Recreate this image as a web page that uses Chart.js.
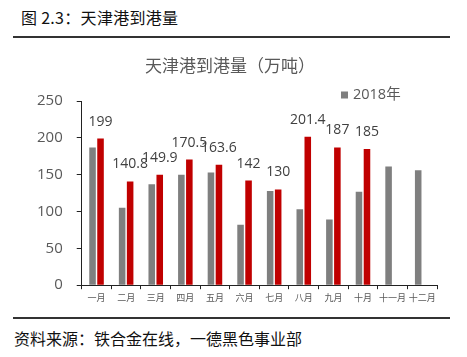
<!DOCTYPE html>
<html>
<head>
<meta charset="utf-8">
<script src="https://cdn.jsdelivr.net/npm/chart.js@4/dist/chart.umd.min.js"></script>
<style>
  html, body { margin: 0; padding: 0; background: #fff; }
  body { width: 467px; height: 357px; position: relative; overflow: hidden; font-family: "Noto Sans CJK SC", sans-serif; }
  #hdr { position: absolute; left: 21px; top: 5px; font-size: 16px; line-height: 24px; color: #111; letter-spacing: 0.3px; }
  .rule { position: absolute; left: 13px; width: 437px; height: 2px; background: #333; }
  #ftr { position: absolute; left: 14px; top: 326px; font-size: 16px; line-height: 24px; color: #111; }
  #wrap { position: absolute; left: 0; top: 40px; width: 467px; height: 275px; }
</style>
</head>
<body>
<div id="hdr">图 2.3：天津港到港量</div>
<div class="rule" style="top:36px"></div>
<div id="wrap"><canvas id="c" width="467" height="275"></canvas></div>
<div class="rule" style="top:317px"></div>
<div id="ftr">资料来源：铁合金在线，一德黑色事业部</div>
<script>
const categories = ["一月","二月","三月","四月","五月","六月","七月","八月","九月","十月","十一月","十二月"];
const series2018 = [187, 105, 137, 150, 153, 82, 128, 103, 89, 127, 161, 156];
const series2019 = [199, 140.8, 149.9, 170.5, 163.6, 142, 130, 201.4, 187, 185, null, null];
const seriesNames = ["2018年", "2019年"];
const yTicks = [0, 50, 100, 150, 200, 250];

const valueLabels = {
  id: 'valueLabels',
  afterDatasetsDraw(chart) {
    const ctx = chart.ctx;
    const meta = chart.getDatasetMeta(1);
    ctx.save();
    ctx.font = '14px "Open Sans", sans-serif';
    ctx.fillStyle = '#404040';
    ctx.textAlign = 'center';
    ctx.textBaseline = 'middle';
    meta.data.forEach((el, i) => {
      const v = series2019[i];
      if (v === null || v === undefined) return;
      ctx.fillText(String(v), el.x, el.y - 17);
    });
    ctx.restore();
  }
};

const sideLegend = {
  id: 'sideLegend',
  afterDraw(chart) {
    const ctx = chart.ctx;
    const ds = chart.data.datasets[0];
    const x = 341, y = 55;
    ctx.save();
    ctx.fillStyle = ds.backgroundColor;
    ctx.fillRect(x, y - 3.5, 7, 7);
    ctx.font = '14.5px "Open Sans", "Noto Sans CJK SC", sans-serif';
    ctx.fillStyle = '#595959';
    ctx.textAlign = 'left';
    ctx.textBaseline = 'middle';
    ctx.fillText(ds.label, x + 12, y);
    ctx.restore();
  }
};

new Chart(document.getElementById('c'), {
  type: 'bar',
  data: {
    labels: categories,
    datasets: [
      { label: seriesNames[0], data: series2018, backgroundColor: '#7F7F7F', categoryPercentage: 0.54, barPercentage: 0.82 },
      { label: seriesNames[1], data: series2019, backgroundColor: '#C00000', categoryPercentage: 0.54, barPercentage: 0.82 }
    ]
  },
  options: {
    responsive: false,
    animation: false,
    devicePixelRatio: 1,
    layout: { padding: { left: 23, right: 30, top: 0, bottom: 9 } },
    plugins: {
      legend: { display: false },
      tooltip: { enabled: false },
      title: {
        display: true,
        text: '天津港到港量（万吨）',
        color: '#595959',
        font: { family: '"Noto Sans CJK SC", sans-serif', size: 17, weight: 'normal' },
        padding: { top: 15, bottom: 25.6 }
      }
    },
    scales: {
      x: {
        grid: { display: true, drawOnChartArea: false, drawTicks: true, tickLength: 4, color: '#222', offset: true },
        border: { display: true, color: '#222', width: 1 },
        ticks: { color: '#595959', font: { family: '"Noto Sans CJK SC", sans-serif', size: 9 }, padding: 3, maxRotation: 0, autoSkip: false }
      },
      y: {
        min: 0, max: 250,
        afterBuildTicks(axis) { axis.ticks = yTicks.map(v => ({ value: v })); },
        grid: { display: true, drawOnChartArea: false, drawTicks: true, tickLength: 5, color: '#222' },
        border: { display: true, color: '#222', width: 1 },
        ticks: { color: '#595959', font: { family: '"Open Sans", sans-serif', size: 15 }, padding: 14 }
      }
    }
  },
  plugins: [valueLabels, sideLegend]
});
</script>
</body>
</html>
